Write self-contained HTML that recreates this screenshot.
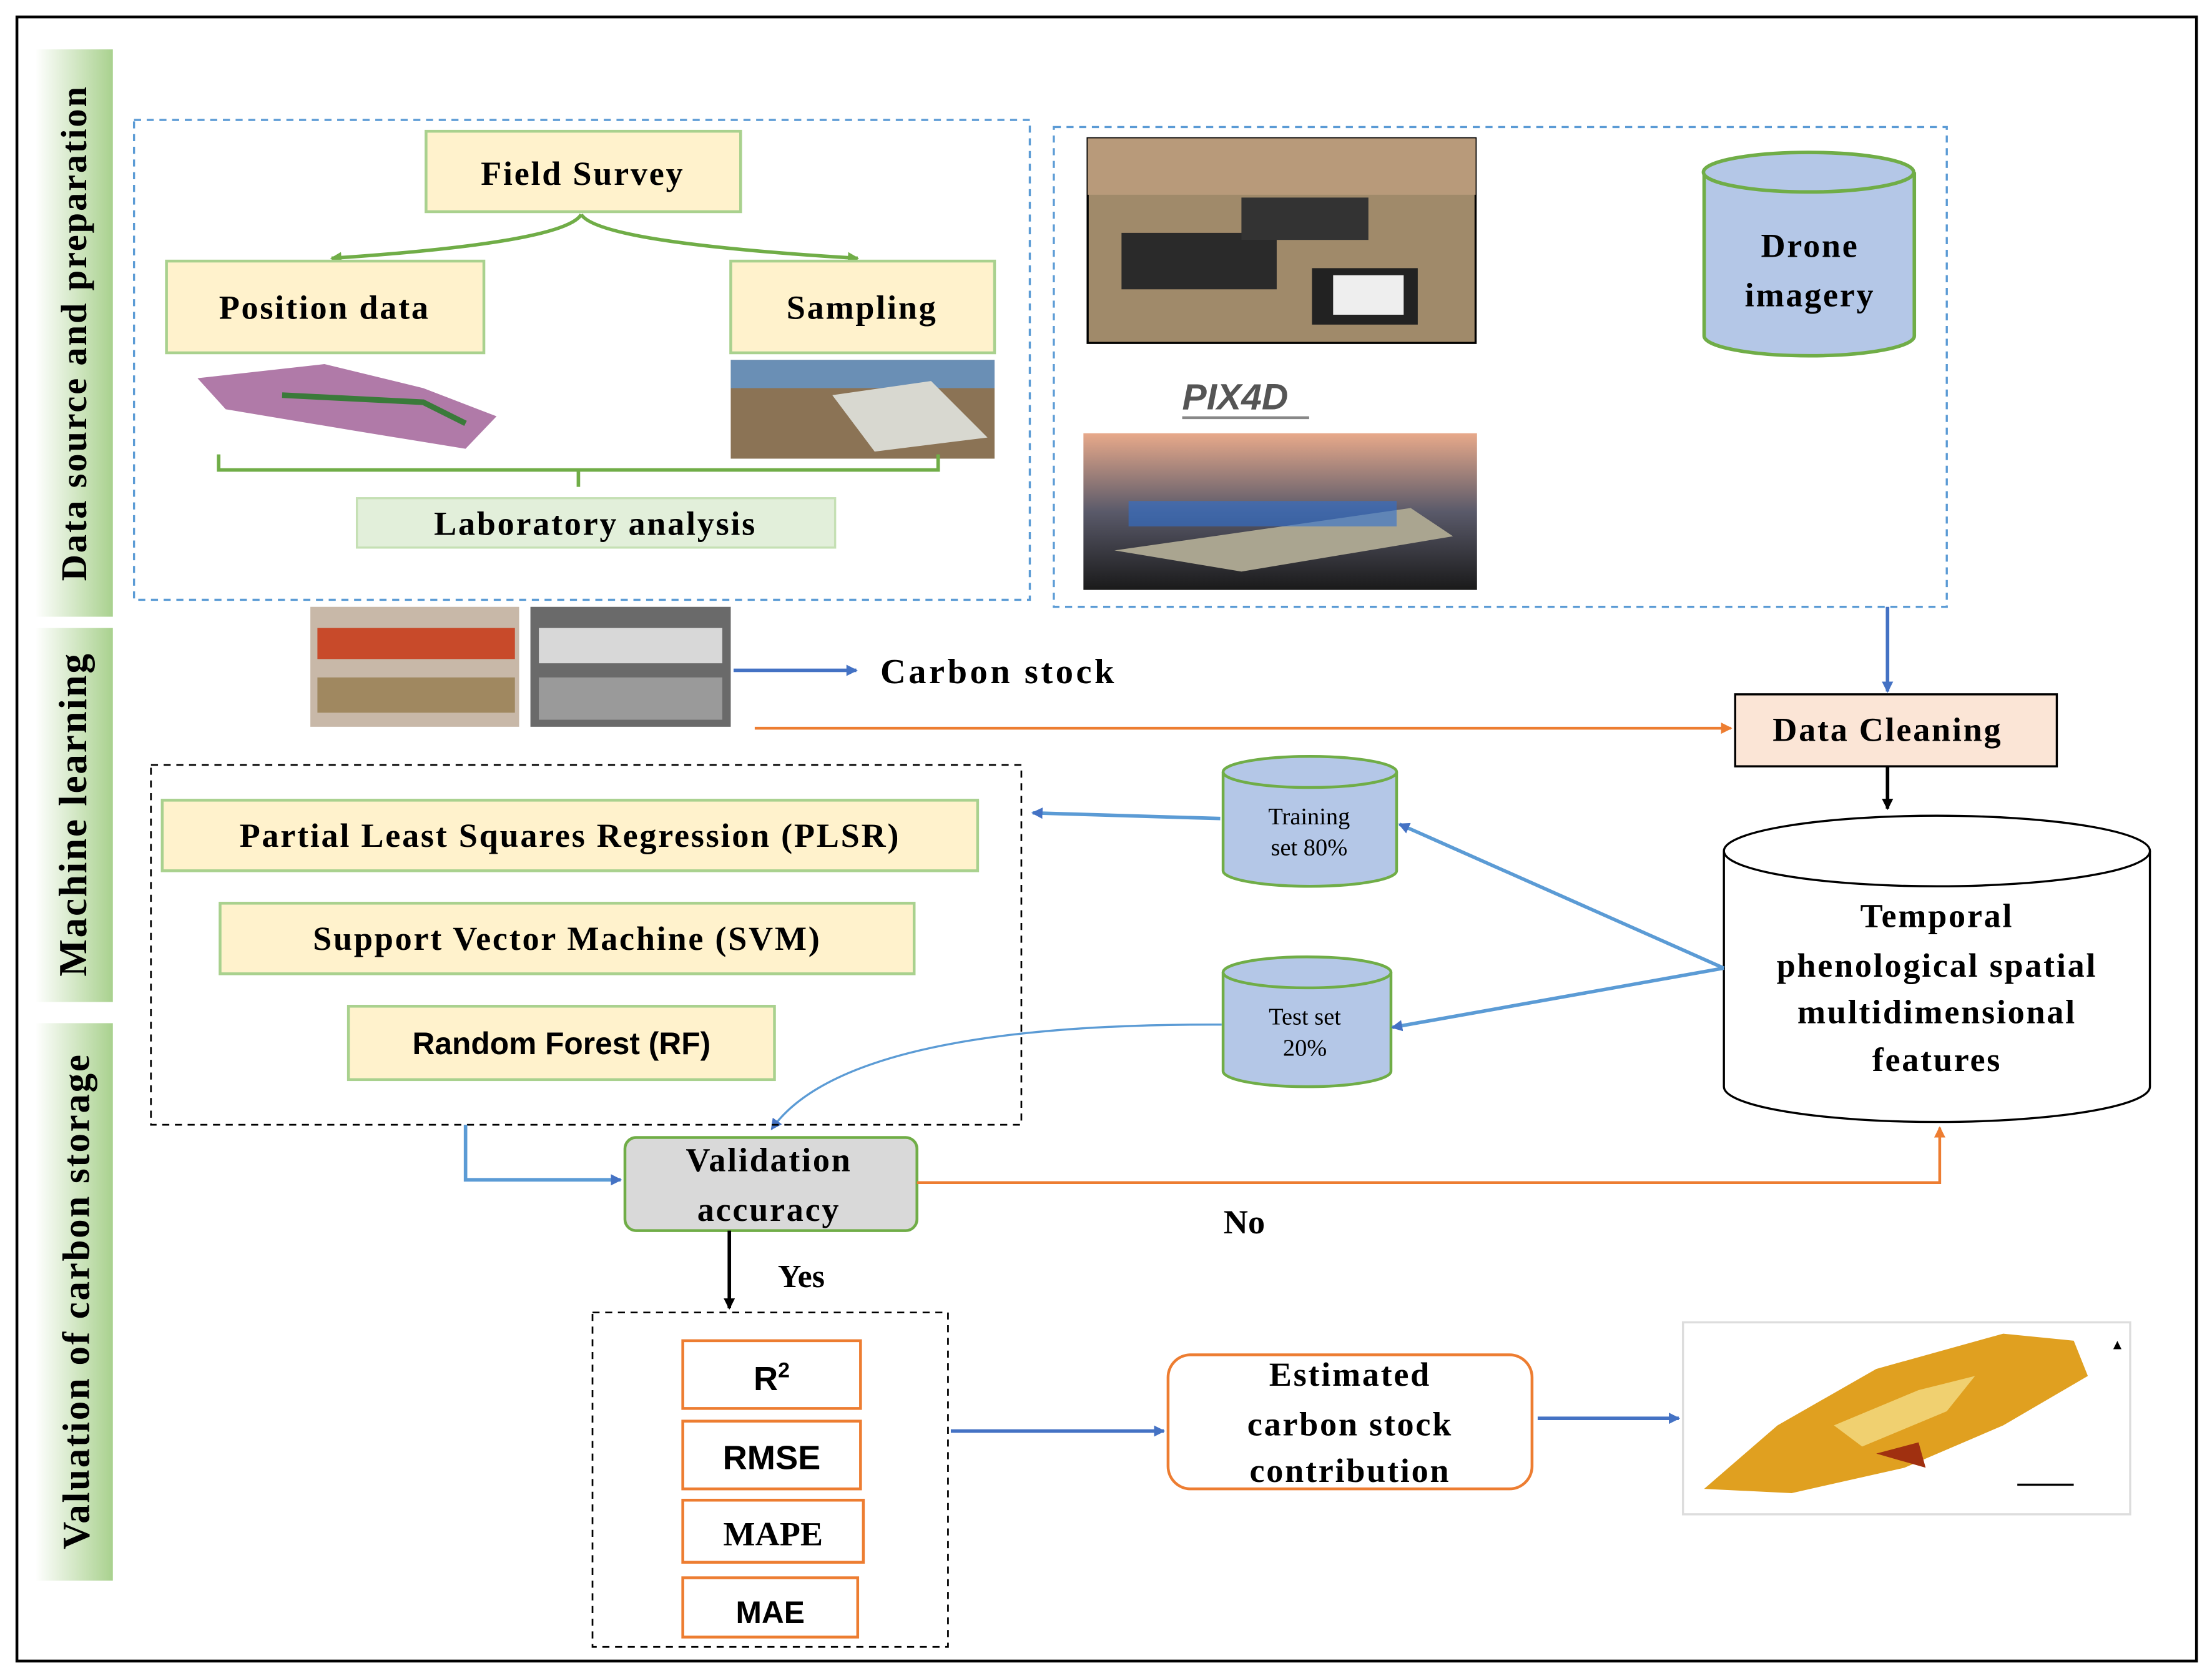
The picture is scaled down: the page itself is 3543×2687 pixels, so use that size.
<!DOCTYPE html>
<html><head><meta charset="utf-8">
<style>
html,body{margin:0;padding:0;background:#fff;}
svg{display:block;}
text{font-family:"Liberation Serif",serif;font-weight:bold;}
.s{font-family:"Liberation Sans",sans-serif;}
.w{letter-spacing:1.2px;}
</style></head>
<body>
<svg width="3543" height="2687" viewBox="0 0 1568 1189" preserveAspectRatio="none" xmlns="http://www.w3.org/2000/svg">
<defs>
<marker id="ab" markerWidth="8" markerHeight="8" refX="7" refY="4" orient="auto" markerUnits="userSpaceOnUse"><path d="M0,0 L8,4 L0,8 z" fill="#4472c4"/></marker>
<marker id="ak" markerWidth="8" markerHeight="8" refX="7" refY="4" orient="auto" markerUnits="userSpaceOnUse"><path d="M0,0 L8,4 L0,8 z" fill="#000"/></marker>
<marker id="ao" markerWidth="8" markerHeight="8" refX="7" refY="4" orient="auto" markerUnits="userSpaceOnUse"><path d="M0,0 L8,4 L0,8 z" fill="#ed7d31"/></marker>
<marker id="ag" markerWidth="8" markerHeight="8" refX="7" refY="4" orient="auto" markerUnits="userSpaceOnUse"><path d="M0,0 L8,4 L0,8 z" fill="#70ad47"/></marker>
<linearGradient id="gb" x1="0" x2="1"><stop offset="0" stop-color="#ffffff"/><stop offset="1" stop-color="#a9d18e"/></linearGradient>
<linearGradient id="sky" x1="0" y1="0" x2="0" y2="1"><stop offset="0" stop-color="#e8a98a"/><stop offset="0.5" stop-color="#5a5a6a"/><stop offset="1" stop-color="#1a1a1a"/></linearGradient>
</defs>
<rect x="12" y="12" width="1545" height="1165" fill="none" stroke="#000" stroke-width="2"/>

<rect x="25" y="35" width="55" height="402" fill="url(#gb)"/>
<rect x="25" y="445" width="55" height="265" fill="url(#gb)"/>
<rect x="25" y="725" width="55" height="395" fill="url(#gb)"/>
<text transform="translate(61,236) rotate(-90)" text-anchor="middle" font-size="26" class="w">Data source and preparation</text>
<text transform="translate(61,577) rotate(-90)" text-anchor="middle" font-size="28" class="w">Machine learning</text>
<text transform="translate(63,922) rotate(-90)" text-anchor="middle" font-size="27" class="w">Valuation of carbon storage</text>

<rect x="95" y="85" width="635" height="340" fill="none" stroke="#5b9bd5" stroke-width="1.5" stroke-dasharray="5,4"/>
<rect x="302" y="93" width="223" height="57" fill="#fff2cc" stroke="#a9d18e" stroke-width="2"/>
<text x="413" y="131" text-anchor="middle" font-size="24" class="w">Field Survey</text>
<path d="M412,152 Q400,172 235,183" fill="none" stroke="#70ad47" stroke-width="2.5" marker-end="url(#ag)"/>
<path d="M412,152 Q425,172 608,183" fill="none" stroke="#70ad47" stroke-width="2.5" marker-end="url(#ag)"/>
<rect x="118" y="185" width="225" height="65" fill="#fff2cc" stroke="#a9d18e" stroke-width="2"/>
<text x="230" y="226" text-anchor="middle" font-size="24" class="w">Position data</text>
<rect x="518" y="185" width="187" height="65" fill="#fff2cc" stroke="#a9d18e" stroke-width="2"/>
<text x="611" y="226" text-anchor="middle" font-size="24" class="w">Sampling</text>
<path d="M140,268 L230,258 L300,275 L352,295 L330,318 L250,305 L160,290 z" fill="#b07aa8"/>
<path d="M200,280 L300,285 L330,300" stroke="#3a7a3a" stroke-width="4" fill="none"/>
<rect x="518" y="255" width="187" height="70" fill="#8b7355"/>
<rect x="518" y="255" width="187" height="20" fill="#6a8fb5"/>
<path d="M590,280 L660,270 L700,310 L620,320 z" fill="#d8d8d0"/>
<path d="M155,322 L155,333 L665,333 L665,322 M410,333 L410,345" fill="none" stroke="#70ad47" stroke-width="2.5"/>
<rect x="253" y="353" width="339" height="35" fill="#e2efda" stroke="#c5e0b4" stroke-width="1.5"/>
<text x="422" y="379" text-anchor="middle" font-size="24" class="w">Laboratory analysis</text>

<rect x="220" y="430" width="148" height="85" fill="#c8b8a8"/>
<rect x="225" y="445" width="140" height="22" fill="#c84a2a"/>
<rect x="225" y="480" width="140" height="25" fill="#a08860"/>
<rect x="376" y="430" width="142" height="85" fill="#6a6a6a"/>
<rect x="382" y="445" width="130" height="25" fill="#d8d8d8"/>
<rect x="382" y="480" width="130" height="30" fill="#9a9a9a"/>
<line x1="520" y1="475" x2="607" y2="475" stroke="#4472c4" stroke-width="2.5" marker-end="url(#ab)"/>
<text x="624" y="484" font-size="25" style="letter-spacing:2px">Carbon stock</text>
<line x1="535" y1="516" x2="1227" y2="516" stroke="#ed7d31" stroke-width="2" marker-end="url(#ao)"/>

<rect x="747" y="90" width="633" height="340" fill="none" stroke="#5b9bd5" stroke-width="1.5" stroke-dasharray="5,4"/>
<rect x="771" y="98" width="275" height="145" fill="#a08a6a" stroke="#000" stroke-width="1.5"/>
<rect x="771" y="98" width="275" height="40" fill="#b89a7a"/>
<rect x="795" y="165" width="110" height="40" fill="#2a2a2a"/>
<rect x="880" y="140" width="90" height="30" fill="#333"/>
<rect x="930" y="190" width="75" height="40" fill="#222"/>
<rect x="945" y="195" width="50" height="28" fill="#eee"/>
<text x="838" y="290" font-size="26" font-style="italic" fill="#555" class="s">PIX4D</text>
<line x1="838" y1="296" x2="928" y2="296" stroke="#888" stroke-width="2"/>
<rect x="768" y="307" width="279" height="111" fill="url(#sky)"/>
<path d="M790,390 L1000,360 L1030,380 L880,405 z" fill="#aaa590"/>
<rect x="800" y="355" width="190" height="18" fill="#2f6fd0" opacity="0.6"/>
<path d="M1208,122 L1208,238 A74,14 0 0 0 1357,238 L1357,122" fill="#b4c7e7" stroke="#70ad47" stroke-width="2.5"/>
<ellipse cx="1282" cy="122" rx="74.5" ry="14" fill="#b4c7e7" stroke="#70ad47" stroke-width="2.5"/>
<text x="1283" y="182" text-anchor="middle" font-size="24" class="w">Drone</text>
<text x="1283" y="217" text-anchor="middle" font-size="24" class="w">imagery</text>

<line x1="1338" y1="430" x2="1338" y2="490" stroke="#4472c4" stroke-width="2.5" marker-end="url(#ab)"/>
<rect x="1230" y="492" width="228" height="51" fill="#fbe5d6" stroke="#000" stroke-width="1.5"/>
<text x="1338" y="525" text-anchor="middle" font-size="24" class="w">Data Cleaning</text>
<line x1="1338" y1="543" x2="1338" y2="573" stroke="#000" stroke-width="2.5" marker-end="url(#ak)"/>
<path d="M1222,603 L1222,770 A151,25 0 0 0 1524,770 L1524,603" fill="#fff" stroke="#000" stroke-width="1.5"/>
<ellipse cx="1373" cy="603" rx="151" ry="25" fill="#fff" stroke="#000" stroke-width="1.5"/>
<text x="1373" y="657" text-anchor="middle" font-size="24" class="w">Temporal</text>
<text x="1373" y="692" text-anchor="middle" font-size="24" class="w">phenological spatial</text>
<text x="1373" y="725" text-anchor="middle" font-size="24" class="w">multidimensional</text>
<text x="1373" y="759" text-anchor="middle" font-size="24" class="w">features</text>

<path d="M867,547 L867,617 A61.5,11 0 0 0 990,617 L990,547" fill="#b4c7e7" stroke="#70ad47" stroke-width="2"/>
<ellipse cx="928.5" cy="547" rx="61.5" ry="11" fill="#b4c7e7" stroke="#70ad47" stroke-width="2"/>
<text x="928" y="584" text-anchor="middle" font-size="17" style="font-weight:normal">Training</text>
<text x="928" y="606" text-anchor="middle" font-size="17" style="font-weight:normal">set  80%</text>
<path d="M867,689 L867,759 A59.5,11 0 0 0 986,759 L986,689" fill="#b4c7e7" stroke="#70ad47" stroke-width="2"/>
<ellipse cx="926.5" cy="689" rx="59.5" ry="11" fill="#b4c7e7" stroke="#70ad47" stroke-width="2"/>
<text x="925" y="726" text-anchor="middle" font-size="17" style="font-weight:normal">Test set</text>
<text x="925" y="748" text-anchor="middle" font-size="17" style="font-weight:normal">20%</text>
<line x1="1222" y1="686" x2="992" y2="584" stroke="#5b9bd5" stroke-width="2.5" marker-end="url(#ab)"/>
<line x1="1222" y1="686" x2="987" y2="728" stroke="#5b9bd5" stroke-width="2.5" marker-end="url(#ab)"/>
<line x1="865" y1="580" x2="732" y2="576" stroke="#5b9bd5" stroke-width="2.5" marker-end="url(#ab)"/>
<path d="M866,726 Q600,725 547,800" fill="none" stroke="#5b9bd5" stroke-width="1.5" marker-end="url(#ab)"/>

<rect x="107" y="542" width="617" height="255" fill="none" stroke="#000" stroke-width="1.2" stroke-dasharray="5,4"/>
<rect x="115" y="567" width="578" height="50" fill="#fff2cc" stroke="#a9d18e" stroke-width="2"/>
<text x="404" y="600" text-anchor="middle" font-size="24" class="w">Partial Least Squares Regression (PLSR)</text>
<rect x="156" y="640" width="492" height="50" fill="#fff2cc" stroke="#a9d18e" stroke-width="2"/>
<text x="402" y="673" text-anchor="middle" font-size="24" class="w">Support Vector Machine (SVM)</text>
<rect x="247" y="713" width="302" height="52" fill="#fff2cc" stroke="#a9d18e" stroke-width="2"/>
<text x="398" y="747" text-anchor="middle" font-size="22" class="s">Random Forest (RF)</text>

<path d="M330,797 L330,836 L440,836" fill="none" stroke="#5b9bd5" stroke-width="2.5" marker-end="url(#ab)"/>
<rect x="443" y="806" width="207" height="66" rx="8" fill="#d9d9d9" stroke="#70ad47" stroke-width="2"/>
<text x="545" y="830" text-anchor="middle" font-size="24" class="w">Validation</text>
<text x="545" y="865" text-anchor="middle" font-size="24" class="w">accuracy</text>
<path d="M650,838 L1375,838 L1375,799" fill="none" stroke="#ed7d31" stroke-width="2" marker-end="url(#ao)"/>
<text x="882" y="874" text-anchor="middle" font-size="24">No</text>
<line x1="517" y1="872" x2="517" y2="927" stroke="#000" stroke-width="2.5" marker-end="url(#ak)"/>
<text x="568" y="912" text-anchor="middle" font-size="23">Yes</text>

<rect x="420" y="930" width="252" height="237" fill="none" stroke="#000" stroke-width="1.2" stroke-dasharray="5,4"/>
<rect x="484" y="950" width="126" height="48" fill="#fff" stroke="#ed7d31" stroke-width="2"/>
<text x="547" y="985" text-anchor="middle" font-size="24" class="s">R<tspan font-size="15" dy="-9">2</tspan></text>
<rect x="484" y="1007" width="126" height="48" fill="#fff" stroke="#ed7d31" stroke-width="2"/>
<text x="547" y="1041" text-anchor="middle" font-size="24" class="s">RMSE</text>
<rect x="484" y="1063" width="128" height="44" fill="#fff" stroke="#ed7d31" stroke-width="2"/>
<text x="548" y="1095" text-anchor="middle" font-size="24">MAPE</text>
<rect x="484" y="1118" width="124" height="42" fill="#fff" stroke="#ed7d31" stroke-width="2"/>
<text x="546" y="1150" text-anchor="middle" font-size="22" class="s">MAE</text>

<line x1="674" y1="1014" x2="825" y2="1014" stroke="#4472c4" stroke-width="2.5" marker-end="url(#ab)"/>
<rect x="828" y="960" width="258" height="95" rx="16" fill="#fff" stroke="#ed7d31" stroke-width="2"/>
<text x="957" y="982" text-anchor="middle" font-size="24" class="w">Estimated</text>
<text x="957" y="1017" text-anchor="middle" font-size="24" class="w">carbon stock</text>
<text x="957" y="1050" text-anchor="middle" font-size="24" class="w">contribution</text>
<line x1="1090" y1="1005" x2="1190" y2="1005" stroke="#4472c4" stroke-width="2.5" marker-end="url(#ab)"/>

<rect x="1193" y="937" width="317" height="136" fill="#fff" stroke="#ddd" stroke-width="1.5"/>
<path d="M1208,1055 L1260,1010 L1330,970 L1420,945 L1470,950 L1480,975 L1420,1010 L1350,1040 L1270,1058 z" fill="#e0a020"/>
<path d="M1300,1010 L1360,985 L1400,975 L1380,1000 L1320,1025 z" fill="#f0d070"/>
<path d="M1330,1030 L1360,1022 L1365,1040 z" fill="#a03010"/>
<line x1="1430" y1="1052" x2="1470" y2="1052" stroke="#000" stroke-width="1.5"/>
<text x="1496" y="956" font-size="10" class="s">▲</text>
</svg>
</body></html>
